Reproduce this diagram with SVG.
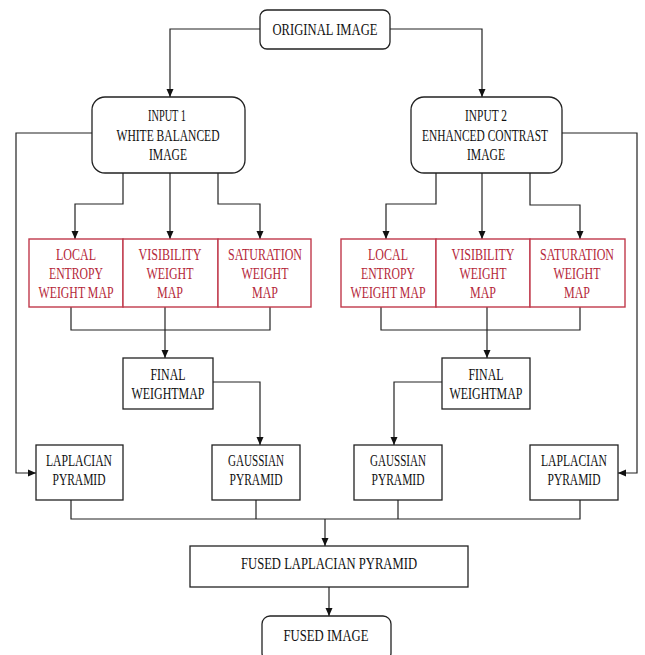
<svg xmlns="http://www.w3.org/2000/svg" width="645" height="655" viewBox="0 0 645 655">
<defs>
<style>
.box{fill:#fff;stroke:#222;stroke-width:1.3}
.red{fill:#fff;stroke:#c0394b;stroke-width:1.4}
.t{font-family:"Liberation Serif","Times New Roman",serif;font-size:16px;fill:#111;text-anchor:middle}
.rt{font-family:"Liberation Serif","Times New Roman",serif;font-size:16px;fill:#b5283a;text-anchor:middle}
.c{fill:none;stroke:#222;stroke-width:1.2}
</style>
<marker id="ah" viewBox="0 0 8 8" refX="8" refY="4" markerWidth="8" markerHeight="8" markerUnits="userSpaceOnUse" orient="auto">
<path d="M0,0.5 L8,4 L0,7.5 Z" fill="#111"/>
</marker>
</defs>
<rect width="645" height="655" fill="#fff"/>

<g id="connectors">
<path class="c" d="M260,29 H170 V97" marker-end="url(#ah)"/>
<path class="c" d="M390,29 H482 V97" marker-end="url(#ah)"/>
<path class="c" d="M92,133 H16 V473 H36" marker-end="url(#ah)"/>
<path class="c" d="M562,133 H637 V473 H618" marker-end="url(#ah)"/>
<path class="c" d="M123,173 V204 H75 V239" marker-end="url(#ah)"/>
<path class="c" d="M170,173 V239" marker-end="url(#ah)"/>
<path class="c" d="M218,173 V204 H260 V239" marker-end="url(#ah)"/>
<path class="c" d="M436,173 V204 H386 V239" marker-end="url(#ah)"/>
<path class="c" d="M482,173 V239" marker-end="url(#ah)"/>
<path class="c" d="M530,173 V205 H580 V239" marker-end="url(#ah)"/>
<path class="c" d="M71,307 V330 H270 V307"/>
<path class="c" d="M165,307 V358" marker-end="url(#ah)"/>
<path class="c" d="M381,307 V330 H580 V307"/>
<path class="c" d="M487,307 V358" marker-end="url(#ah)"/>
<path class="c" d="M213,382 H260 V445" marker-end="url(#ah)"/>
<path class="c" d="M442,382 H394 V445" marker-end="url(#ah)"/>
<path class="c" d="M71,500 V519 H580 V500"/>
<path class="c" d="M256,500 V519"/>
<path class="c" d="M398,500 V519"/>
<path class="c" d="M325,519 V546" marker-end="url(#ah)"/>
<path class="c" d="M329,587 V616" marker-end="url(#ah)"/>
</g>

<g id="original">
<rect class="box" x="260" y="10" width="130" height="39" rx="7"/>
<text class="t" x="325" y="35" textLength="105" lengthAdjust="spacingAndGlyphs">ORIGINAL IMAGE</text>
</g>

<g id="input1">
<rect class="box" x="92" y="97" width="153" height="76" rx="13"/>
<text class="t" x="167" y="121" textLength="38" lengthAdjust="spacingAndGlyphs">INPUT 1</text>
<text class="t" x="168" y="141" textLength="103" lengthAdjust="spacingAndGlyphs">WHITE BALANCED</text>
<text class="t" x="168" y="160" textLength="38" lengthAdjust="spacingAndGlyphs">IMAGE</text>
</g>

<g id="input2">
<rect class="box" x="411" y="97" width="151" height="76" rx="13"/>
<text class="t" x="486" y="121" textLength="42" lengthAdjust="spacingAndGlyphs">INPUT 2</text>
<text class="t" x="485" y="141" textLength="126" lengthAdjust="spacingAndGlyphs">ENHANCED CONTRAST</text>
<text class="t" x="486" y="160" textLength="38" lengthAdjust="spacingAndGlyphs">IMAGE</text>
</g>

<g id="entropy1">
<rect class="red" x="29" y="239" width="94" height="68"/>
<text class="rt" x="76" y="260" textLength="40" lengthAdjust="spacingAndGlyphs">LOCAL</text>
<text class="rt" x="76" y="279" textLength="54" lengthAdjust="spacingAndGlyphs">ENTROPY</text>
<text class="rt" x="76" y="298" textLength="75" lengthAdjust="spacingAndGlyphs">WEIGHT MAP</text>
</g>
<g id="visibility1">
<rect class="red" x="123" y="239" width="95" height="68"/>
<text class="rt" x="170" y="260" textLength="63" lengthAdjust="spacingAndGlyphs">VISIBILITY</text>
<text class="rt" x="170" y="279" textLength="47" lengthAdjust="spacingAndGlyphs">WEIGHT</text>
<text class="rt" x="170" y="298" textLength="26" lengthAdjust="spacingAndGlyphs">MAP</text>
</g>
<g id="saturation1">
<rect class="red" x="218" y="239" width="93" height="68"/>
<text class="rt" x="265" y="260" textLength="74" lengthAdjust="spacingAndGlyphs">SATURATION</text>
<text class="rt" x="265" y="279" textLength="47" lengthAdjust="spacingAndGlyphs">WEIGHT</text>
<text class="rt" x="265" y="298" textLength="26" lengthAdjust="spacingAndGlyphs">MAP</text>
</g>

<g id="entropy2">
<rect class="red" x="341" y="239" width="95" height="68"/>
<text class="rt" x="388" y="260" textLength="40" lengthAdjust="spacingAndGlyphs">LOCAL</text>
<text class="rt" x="388" y="279" textLength="54" lengthAdjust="spacingAndGlyphs">ENTROPY</text>
<text class="rt" x="388" y="298" textLength="75" lengthAdjust="spacingAndGlyphs">WEIGHT MAP</text>
</g>
<g id="visibility2">
<rect class="red" x="436" y="239" width="94" height="68"/>
<text class="rt" x="483" y="260" textLength="63" lengthAdjust="spacingAndGlyphs">VISIBILITY</text>
<text class="rt" x="483" y="279" textLength="47" lengthAdjust="spacingAndGlyphs">WEIGHT</text>
<text class="rt" x="483" y="298" textLength="26" lengthAdjust="spacingAndGlyphs">MAP</text>
</g>
<g id="saturation2">
<rect class="red" x="530" y="239" width="95" height="68"/>
<text class="rt" x="577" y="260" textLength="74" lengthAdjust="spacingAndGlyphs">SATURATION</text>
<text class="rt" x="577" y="279" textLength="47" lengthAdjust="spacingAndGlyphs">WEIGHT</text>
<text class="rt" x="577" y="298" textLength="26" lengthAdjust="spacingAndGlyphs">MAP</text>
</g>

<g id="final1">
<rect class="box" x="123" y="358" width="90" height="51"/>
<text class="t" x="168" y="380" textLength="35" lengthAdjust="spacingAndGlyphs">FINAL</text>
<text class="t" x="168" y="399" textLength="73" lengthAdjust="spacingAndGlyphs">WEIGHTMAP</text>
</g>
<g id="final2">
<rect class="box" x="442" y="358" width="88" height="51"/>
<text class="t" x="486" y="380" textLength="35" lengthAdjust="spacingAndGlyphs">FINAL</text>
<text class="t" x="486" y="399" textLength="73" lengthAdjust="spacingAndGlyphs">WEIGHTMAP</text>
</g>

<g id="laplacian1">
<rect class="box" x="36" y="445" width="87" height="55"/>
<text class="t" x="79" y="466" textLength="66" lengthAdjust="spacingAndGlyphs">LAPLACIAN</text>
<text class="t" x="79" y="485" textLength="53" lengthAdjust="spacingAndGlyphs">PYRAMID</text>
</g>
<g id="gaussian1">
<rect class="box" x="212" y="445" width="88" height="55"/>
<text class="t" x="256" y="466" textLength="56" lengthAdjust="spacingAndGlyphs">GAUSSIAN</text>
<text class="t" x="256" y="485" textLength="53" lengthAdjust="spacingAndGlyphs">PYRAMID</text>
</g>
<g id="gaussian2">
<rect class="box" x="354" y="445" width="88" height="55"/>
<text class="t" x="398" y="466" textLength="56" lengthAdjust="spacingAndGlyphs">GAUSSIAN</text>
<text class="t" x="398" y="485" textLength="53" lengthAdjust="spacingAndGlyphs">PYRAMID</text>
</g>
<g id="laplacian2">
<rect class="box" x="530" y="445" width="88" height="55"/>
<text class="t" x="574" y="466" textLength="66" lengthAdjust="spacingAndGlyphs">LAPLACIAN</text>
<text class="t" x="574" y="485" textLength="53" lengthAdjust="spacingAndGlyphs">PYRAMID</text>
</g>

<g id="fused-laplacian">
<rect class="box" x="190" y="546" width="278" height="41"/>
<text class="t" x="329" y="569" textLength="176" lengthAdjust="spacingAndGlyphs">FUSED LAPLACIAN PYRAMID</text>
</g>

<g id="fused-image">
<rect class="box" x="262" y="616" width="129" height="45" rx="8"/>
<text class="t" x="326" y="641" textLength="85" lengthAdjust="spacingAndGlyphs">FUSED IMAGE</text>
</g>
</svg>
